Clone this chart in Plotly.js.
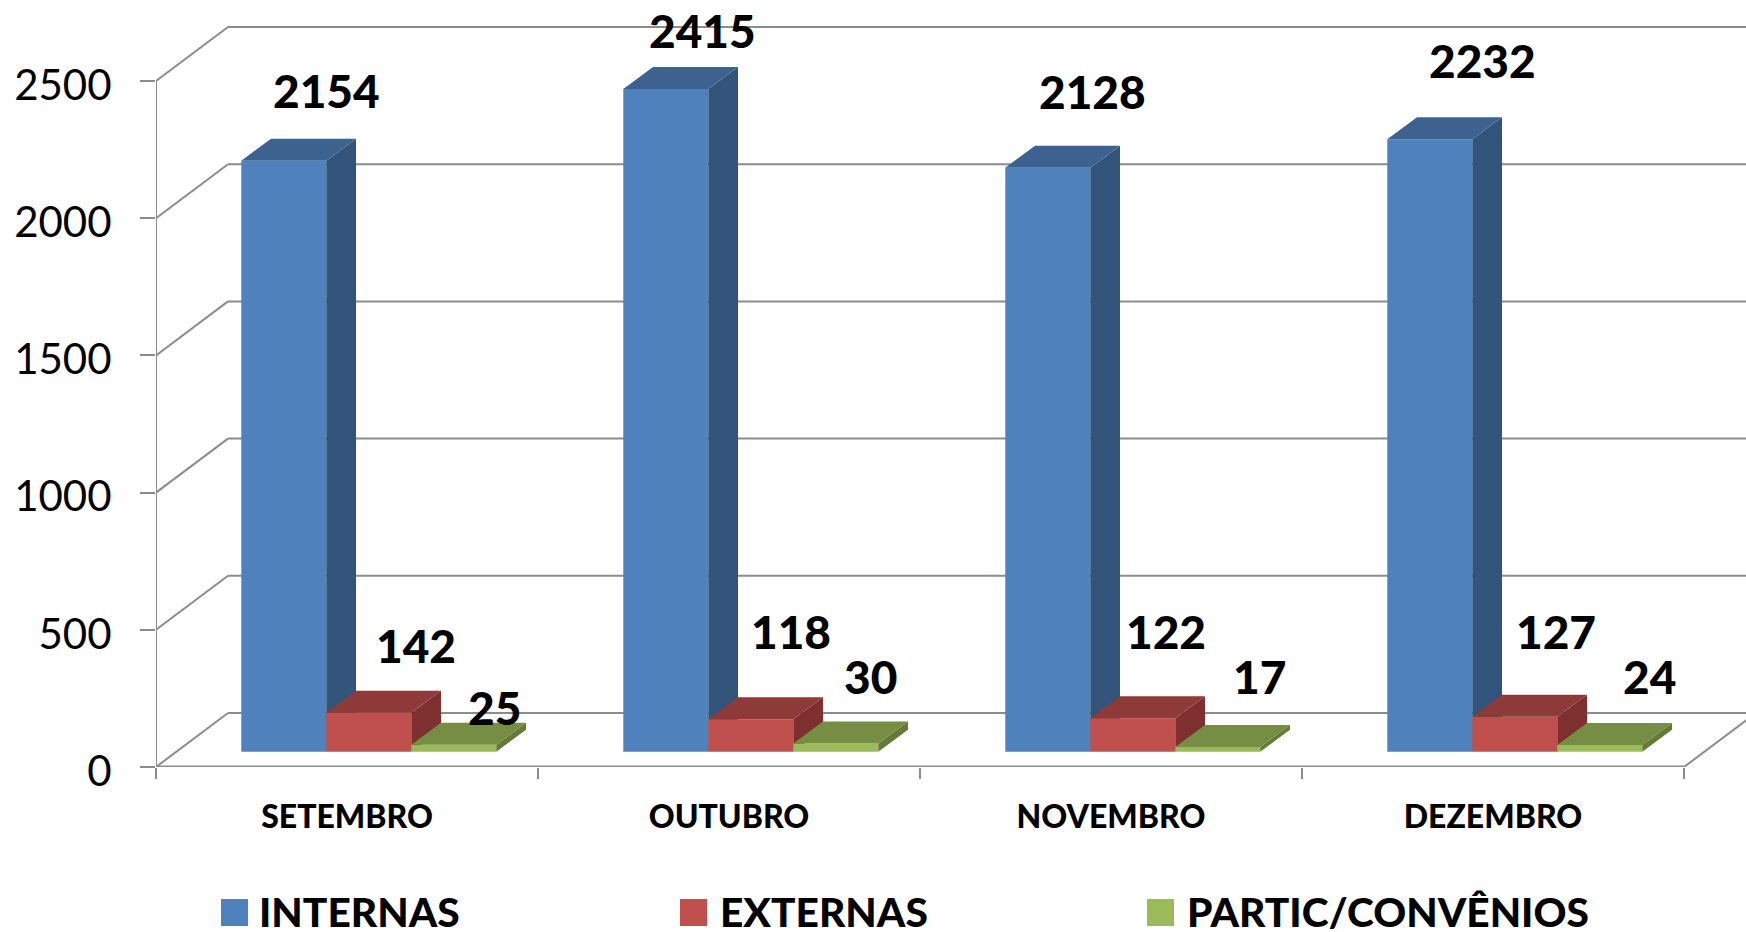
<!DOCTYPE html>
<html><head><meta charset="utf-8">
<script src="https://cdn.plot.ly/plotly-3.0.1.min.js"></script>
<style>html,body{margin:0;padding:0;background:#fff;overflow:hidden}#chart{width:1746px;height:932px}</style>
</head><body><div id="chart"></div>
<script>
const categories = ['SETEMBRO','OUTUBRO','NOVEMBRO','DEZEMBRO'];
const internas = [2154,2415,2128,2232];
const externas = [142,118,122,127];
const partic = [25,30,17,24];
const yTicks = [0,500,1000,1500,2000,2500];
const seriesNames = ['INTERNAS','EXTERNAS','PARTIC/CONVÊNIOS'];

// label nudges in screen pixels (hand-placed labels in the original)
const labelDx = [[0,-6,2,10],[5,-2,-9,-1],[-2,-8,-1,7]];
const labelDy = [[70,59,76,79],[67,88,87,85],[37,67,71,69]];

const W=1746,H=932,L=156,B=767;
const pxX=382, pxY=0.2744;
const xMin=-0.5, xMax=xMin+(W-L)/pxX, yMax=B/pxY;
const backDx=72/pxX, backDy=54/pxY;
const depthDx=29.7/pxX, depthDy=22/pxY;
const barStart=85.3/pxX, barW=85/pxX, floorBase=15.3/pxY;
const front=['#4F81BD','#C0504D','#9BBB59'];
const top_=['#3D628F','#8E3A38','#768E44'];
const side=['#33547A','#7D302F','#647A35'];
const gray='#8C8C8C';
const all=[internas,externas,partic];
const yNames=['y','y2','y3'];

const traces=[], annotations=[];
const shapes=[];
function ln(x0,y0,x1,y1,w){shapes.push({type:'line',layer:'below',xref:'x',yref:'y',x0,y0,x1,y1,line:{color:gray,width:w||2}});}
yTicks.forEach(v=>{
  ln(xMin,v,xMin+backDx,v+backDy);
  ln(xMin+backDx,v+backDy,xMax,v+backDy);
});
ln(xMin,0,xMin,yTicks[yTicks.length-1]);
ln(xMin,0,xMin+4,0,3);
ln(xMin+4,0,xMin+4+backDx,backDy);

all.forEach((vals,s)=>{
  const left=categories.map((c,i)=>i+xMin+barStart+s*barW);
  traces.push({type:'bar',name:seriesNames[s],x:categories.map((c,i)=>i),y:vals,base:floorBase,
    width:barW,offset:xMin+barStart+s*barW,marker:{color:front[s],line:{width:0}},
    xaxis:'x',yaxis:yNames[s],hoverinfo:'x+y',showlegend:false});
  vals.forEach((v,i)=>{
    const x0=left[i],x1=x0+barW,yb=floorBase,yt=floorBase+v;
    traces.push({type:'scatter',mode:'lines',x:[x1,x1+depthDx,x1+depthDx,x1,x1],
      y:[yb,yb+depthDy,yt+depthDy,yt,yb],fill:'toself',fillcolor:side[s],line:{width:0,color:side[s]},
      xaxis:'x',yaxis:yNames[s],hoverinfo:'skip',showlegend:false});
    traces.push({type:'scatter',mode:'lines',x:[x0,x1,x1+depthDx,x0+depthDx,x0],
      y:[yt,yt,yt+depthDy,yt+depthDy,yt],fill:'toself',fillcolor:top_[s],line:{width:0,color:top_[s]},
      xaxis:'x',yaxis:yNames[s],hoverinfo:'skip',showlegend:false});
    annotations.push({xref:'x',yref:'y',x:x1,y:yt,text:String(v),showarrow:false,
      xanchor:'center',yanchor:'middle',xshift:labelDx[s][i],yshift:labelDy[s][i],
      font:{family:'Lato',size:46,color:'#000',weight:900}});
  });
});

// legend row
const legendSq=[221,680,1147], legendTx=[257,718,1184.5];
seriesNames.forEach((n,s)=>{
  shapes.push({type:'rect',xref:'paper',yref:'paper',layer:'above',
    x0:(legendSq[s]-L)/(W-L),x1:(legendSq[s]+27-L)/(W-L),
    y0:(B-926)/B,y1:(B-899)/B,fillcolor:front[s],line:{width:0}});
  annotations.push({xref:'paper',yref:'paper',x:(legendTx[s]-L)/(W-L),y:(B-911)/B,text:n,showarrow:false,
    xanchor:'left',yanchor:'middle',font:{family:'Lato',size:40.7,color:'#000',weight:900}});
});

const yBase={range:[0,yMax],autorange:false,fixedrange:true};
const layout={
  width:W,height:H,margin:{l:L,r:0,t:0,b:H-B,pad:0},
  paper_bgcolor:'#fff',plot_bgcolor:'rgba(0,0,0,0)',showlegend:false,dragmode:false,
  xaxis:{type:'linear',range:[xMin,xMax],autorange:false,fixedrange:true,tickmode:'array',
    tickvals:categories.map((c,i)=>i),ticktext:categories,ticks:'outside',ticklen:22,tickcolor:'rgba(0,0,0,0)',
    tickfont:{family:'Lato',size:32,color:'#000',weight:900},showgrid:false,zeroline:false,showline:false,
    minor:{tickmode:'array',tickvals:[-0.5,0.5,1.5,2.5,3.5],ticks:'outside',ticklen:11,tickwidth:2,tickcolor:gray,showgrid:false}},
  yaxis:Object.assign({},yBase,{tickmode:'array',tickvals:yTicks,ticktext:yTicks.map(String),ticks:'outside',ticklen:15,
    tickwidth:2,tickcolor:gray,ticklabelstandoff:20,ticklabelshift:4,tickfont:{family:'Lato',size:42,color:'#000'},
    showgrid:false,zeroline:false,showline:false}),
  yaxis2:Object.assign({},yBase,{overlaying:'y',visible:false}),
  yaxis3:Object.assign({},yBase,{overlaying:'y',visible:false}),
  shapes,annotations
};
Plotly.newPlot('chart',traces,layout,{displayModeBar:false,staticPlot:true});
</script></body></html>
